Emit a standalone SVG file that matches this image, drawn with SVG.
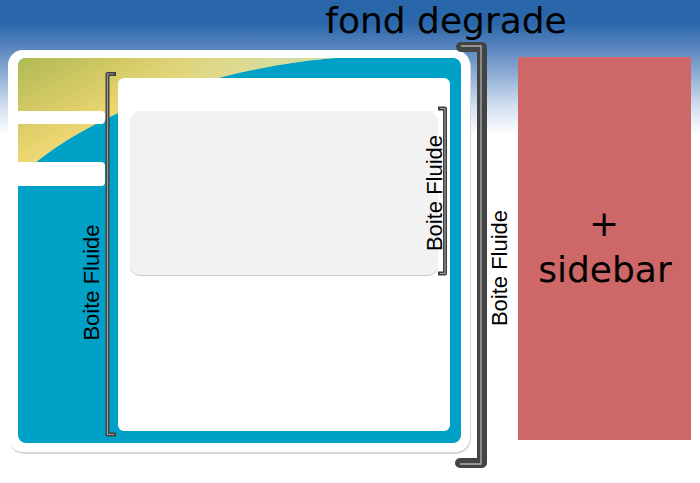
<svg xmlns="http://www.w3.org/2000/svg" width="700" height="483" viewBox="0 0 700 483">
  <defs>
    <linearGradient id="bg" x1="0" y1="0" x2="0" y2="483" gradientUnits="userSpaceOnUse">
      <stop offset="0" stop-color="#2865a9"/>
      <stop offset="0.05" stop-color="#2c68ab"/>
      <stop offset="0.1" stop-color="#5a87bf"/>
      <stop offset="0.16" stop-color="#94b2d7"/>
      <stop offset="0.22" stop-color="#d2dff0"/>
      <stop offset="0.28" stop-color="#ffffff"/>
      <stop offset="1" stop-color="#ffffff"/>
    </linearGradient>
    <linearGradient id="yel" x1="40" y1="50" x2="110" y2="185" gradientUnits="userSpaceOnUse">
      <stop offset="0" stop-color="#b1bb55"/>
      <stop offset="0.55" stop-color="#ead46f"/>
      <stop offset="1" stop-color="#f6e8ac"/>
    </linearGradient>
    <linearGradient id="yelR" x1="120" y1="0" x2="330" y2="0" gradientUnits="userSpaceOnUse">
      <stop offset="0" stop-color="#c5d79c" stop-opacity="0"/>
      <stop offset="1" stop-color="#c8dca6" stop-opacity="0.85"/>
    </linearGradient>
    <clipPath id="panelClip">
      <rect x="18" y="58" width="443" height="385" rx="8"/>
    </clipPath>
    <style>
      .lbl { font-family: "Liberation Sans", Arial, sans-serif; font-size: 22px; fill: #000; text-anchor: middle; }
      .big { font-family: "DejaVu Sans", Verdana, sans-serif; font-size: 36px; fill: #000; text-anchor: middle; }
      .brOut { fill: none; stroke: #3f3f3f; stroke-width: 4; stroke-linejoin: round; stroke-linecap: square; }
      .brIn { fill: none; stroke: #9a9a9a; stroke-width: 1.2; }
      .bigOut { fill: none; stroke: #444444; stroke-width: 10; stroke-linejoin: round; stroke-linecap: round; }
      .bigIn { fill: none; stroke: #b0b0b0; stroke-width: 1.3; }
      .bar { fill: #ffffff; }
    </style>
  </defs>

  <rect id="background" x="0" y="0" width="700" height="483" fill="url(#bg)"/>
  <text class="big" x="446" y="33">fond degrade</text>

  <g id="page">
    <rect x="9" y="52" width="462" height="402" rx="15" fill="#d8d8d8"/>
    <rect x="8" y="50" width="462" height="402" rx="15" fill="#ffffff"/>
    <rect x="18" y="58" width="443" height="385" rx="8" fill="#00a1c7"/>
    <g clip-path="url(#panelClip)">
      <path d="M18 178 L18 58 L335 58 C250 64 100 100 18 178 Z" fill="url(#yel)"/>
      <path d="M18 178 L18 58 L335 58 C250 64 100 100 18 178 Z" fill="url(#yelR)"/>
    </g>
    <path class="bar" d="M18 111 H101 Q105 111 105 115 V120 Q105 124 101 124 H18 Z"/>
    <path class="bar" d="M18 162 H101 Q105 162 105 166 V182 Q105 186 101 186 H18 Z"/>
  </g>

  <g id="content">
    <rect x="118" y="78" width="332" height="353" rx="6" fill="#ffffff"/>
  </g>

  <g id="innerbox">
    <rect x="130" y="112" width="308" height="164" rx="10" fill="#c8c8c8"/>
    <rect x="130" y="111" width="308" height="164" rx="10" fill="#f2f2f2"/>
  </g>

  <g id="sidebar">
    <rect x="518" y="57" width="173" height="383" fill="#cd6768"/>
    <text class="big" x="604" y="236">+</text>
    <text class="big" x="605" y="282">sidebar</text>
  </g>

  <g id="connectors">
    <path class="brOut" d="M114 74 H107.5 V434.5 H114"/>
    <path class="brIn" d="M114 74 H107.5 V434.5 H114"/>
    <path class="brOut" d="M440 108.5 H445 V273.5 H440"/>
    <path class="brIn" d="M440 108.5 H445 V273.5 H440"/>
    <path class="bigOut" d="M461 47 H482 V463 H460"/>
    <path class="bigIn" d="M461 46 H481 V464 H460"/>
  </g>

  <g id="labels">
    <text class="lbl" transform="translate(99 282.5) rotate(-90)">Boite Fluide</text>
    <text class="lbl" transform="translate(441.5 193) rotate(-90)">Boite Fluide</text>
    <text class="lbl" transform="translate(507 268) rotate(-90)">Boite Fluide</text>
  </g>
</svg>
